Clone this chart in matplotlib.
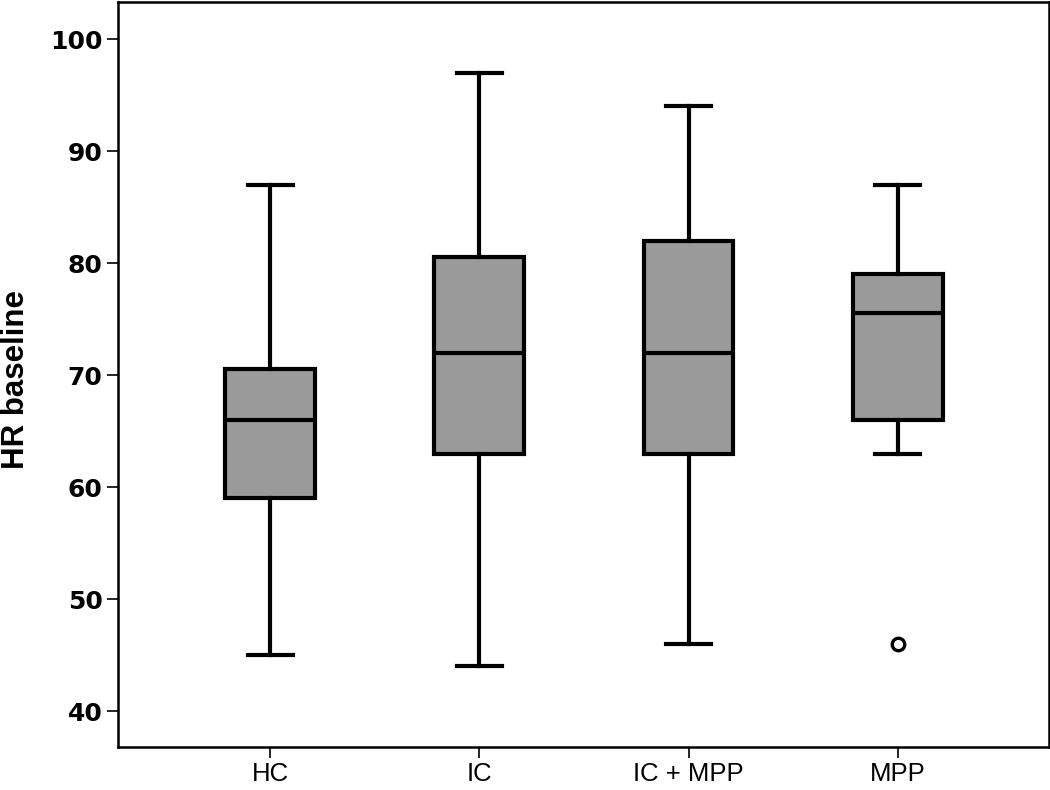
import matplotlib
matplotlib.use('Agg')
import matplotlib.pyplot as plt

groups = ['HC', 'IC', 'IC + MPP', 'MPP']
whis_lo = [45, 44, 46, 63]
q1 = [59, 63, 63, 66]
med = [66, 72, 72, 75.5]
q3 = [70.5, 80.5, 82, 79]
whis_hi = [87, 97, 94, 87]
outliers = [[], [], [], [46]]

stats = []
for i in range(len(groups)):
    stats.append({'label': groups[i], 'whislo': whis_lo[i], 'q1': q1[i],
                  'med': med[i], 'q3': q3[i], 'whishi': whis_hi[i],
                  'fliers': outliers[i]})

fig = plt.figure(figsize=(10.5, 7.9), dpi=100)
ax = fig.add_axes([0.1124, 0.0544, 0.8867, 0.943])

lw = 3.0
ax.bxp(stats, positions=[1, 2, 3, 4], widths=0.43, patch_artist=True,
       boxprops=dict(facecolor='#9a9a9a', edgecolor='black', linewidth=lw),
       medianprops=dict(color='black', linewidth=lw),
       whiskerprops=dict(color='black', linewidth=lw),
       capprops=dict(color='black', linewidth=lw),
       capwidths=0.215,
       flierprops=dict(marker='o', markersize=9, markerfacecolor='white',
                       markeredgecolor='black', markeredgewidth=2.4))

ax.set_xlim(0.272, 4.724)
ax.set_ylim(36.8, 103.3)
ax.set_yticks([40, 50, 60, 70, 80, 90, 100])
ax.set_xticks([1, 2, 3, 4])
ax.set_xticklabels(groups, family='Liberation Sans', fontsize=18.5)
for t in ax.get_yticklabels():
    t.set_family('DejaVu Sans')
    t.set_fontweight('bold')
    t.set_fontsize(18)
ax.tick_params(axis='both', length=8, width=1.2, pad=3)
ax.set_ylabel('HR baseline', family='Liberation Sans', fontweight='bold',
              fontsize=22.5)
ax.yaxis.set_label_coords(-0.094, 0.493)
for s in ax.spines.values():
    s.set_linewidth(1.8)

fig.savefig('out.png')
